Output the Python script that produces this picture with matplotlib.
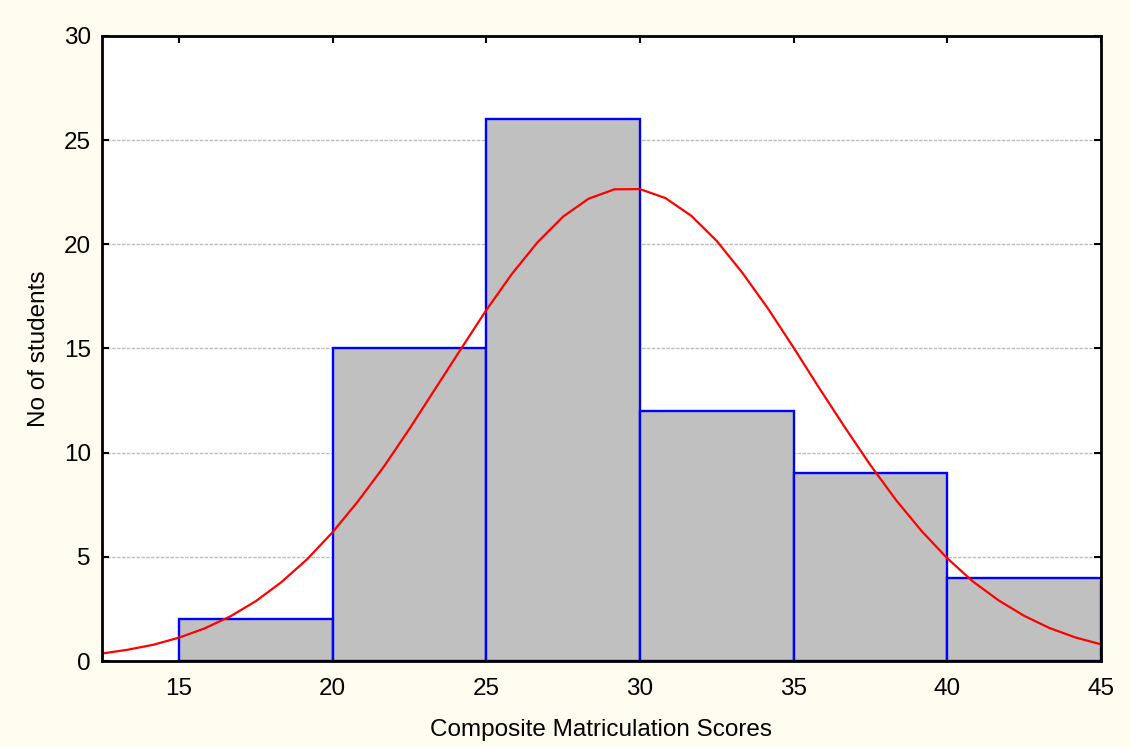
import numpy as np
import matplotlib.pyplot as plt

# histogram bins (left edges) and student counts
bin_edges = [15, 20, 25, 30, 35, 40, 45]
counts = [2, 15, 26, 12, 9, 4]

# fitted normal curve
curve_x = [12.50, 13.33, 14.17, 15.00, 15.83, 16.67, 17.50, 18.33, 19.17, 20.00,
           20.83, 21.67, 22.50, 23.33, 24.17, 25.00, 25.83, 26.67, 27.50, 28.33,
           29.17, 30.00, 30.83, 31.67, 32.50, 33.33, 34.17, 35.00, 35.83, 36.67,
           37.50, 38.33, 39.17, 40.00, 40.83, 41.67, 42.50, 43.33, 44.17, 45.00]
curve_y = [0.36, 0.54, 0.78, 1.12, 1.56, 2.14, 2.87, 3.78, 4.88, 6.18,
           7.67, 9.33, 11.14, 13.04, 14.96, 16.84, 18.57, 20.10, 21.33, 22.19,
           22.64, 22.65, 22.22, 21.37, 20.16, 18.64, 16.91, 15.04, 13.11, 11.21,
           9.40, 7.73, 6.23, 4.93, 3.82, 2.91, 2.17, 1.58, 1.13, 0.80]

xticks = [15, 20, 25, 30, 35, 40, 45]
yticks = [0, 5, 10, 15, 20, 25, 30]

plt.rcParams['font.family'] = ['Liberation Sans', 'DejaVu Sans']

fig = plt.figure(figsize=(11.3, 7.48), dpi=100, facecolor='#fffdf0')
ax = fig.add_axes([0.0903, 0.1163, 0.8840, 0.8356])
ax.set_facecolor('white')

widths = np.diff(bin_edges)
ax.bar(bin_edges[:-1], counts, width=widths, align='edge',
       color='#c0c0c0', edgecolor='#0000ff', linewidth=1.7, zorder=2)
ax.plot(curve_x, curve_y, color='#ff0000', linewidth=1.6, zorder=3)

ax.set_xlim(12.5, 45)
ax.set_ylim(0, 30)
ax.set_xticks(xticks)
ax.set_yticks(yticks)
ax.yaxis.grid(True, color='#bdbdbd', linestyle=(0, (2.5, 1)), linewidth=1.0, zorder=0)
ax.set_axisbelow(True)

ax.tick_params(direction='in', top=True, right=True, length=5, width=1.5,
               labelsize=17.5)
ax.tick_params(axis='x', pad=12)
ax.tick_params(axis='y', pad=8)
for s in ax.spines.values():
    s.set_linewidth(2.0)
    s.set_zorder(4)

ax.set_xlabel('Composite Matriculation Scores', fontsize=17.5, labelpad=14)
ax.set_ylabel('No of students', fontsize=17.5, labelpad=10)

fig.savefig('out.png', dpi=100, facecolor=fig.get_facecolor())
